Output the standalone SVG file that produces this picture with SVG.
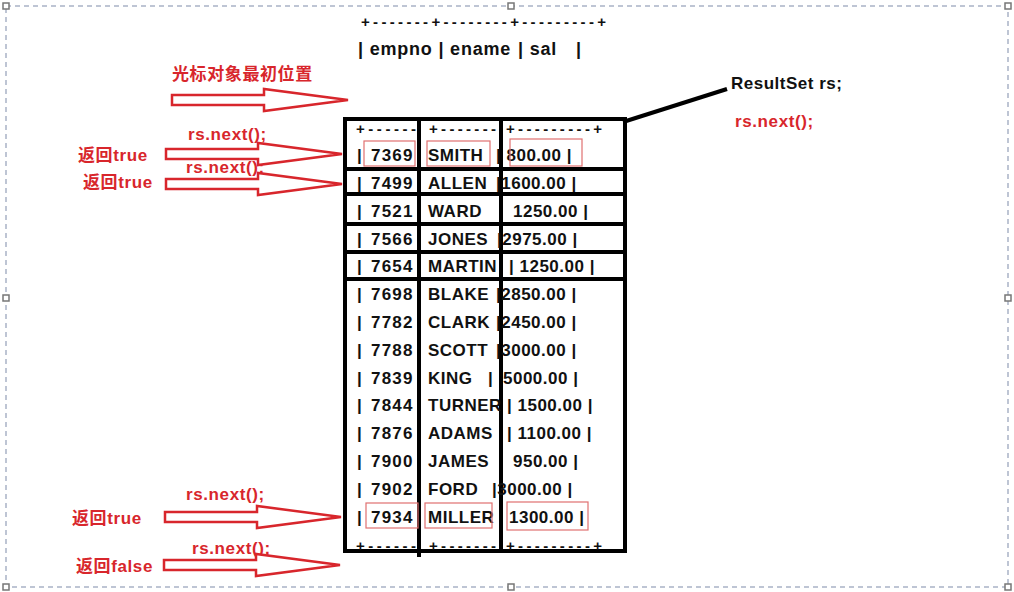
<svg xmlns="http://www.w3.org/2000/svg" width="1014" height="592" viewBox="0 0 1014 592">
<style>
.frame{fill:none;stroke:#a9b3c6;stroke-width:1.5;stroke-dasharray:5 4}
.handle{fill:#fff;stroke:#777;stroke-width:1.5}
.t{font-family:"Liberation Sans","Noto Sans CJK SC",sans-serif;font-weight:bold;font-size:17px;fill:#111;letter-spacing:0.5px}
.n{letter-spacing:1.2px}
.h{font-size:18px;letter-spacing:0.8px}
.p{font-size:15px;letter-spacing:0}
.r{font-family:"Liberation Sans","Noto Sans CJK SC",sans-serif;font-weight:bold;font-size:17px;fill:#d8262c;letter-spacing:0.6px}
.thick{stroke:#000;stroke-width:4;fill:none}
.box{fill:none;stroke:#e07070;stroke-width:1.2}
.arrow{fill:#fff;stroke:#d8262c;stroke-width:2.5;stroke-linejoin:miter}
</style>
<defs>
<path id="arr" d="M0,-5 L92,-5 L92,-11 L176,0 L92,11 L92,5 L0,5 Z"/>
</defs>
<rect width="1014" height="592" fill="#fff"/>
<rect class="frame" x="6" y="6" width="1002" height="581"/>
<g id="handles">
<rect class="handle" x="3" y="3" width="6" height="6"/>
<rect class="handle" x="508" y="3" width="6" height="6"/>
<rect class="handle" x="1005" y="3" width="6" height="6"/>
<rect class="handle" x="3" y="295" width="6" height="6"/>
<rect class="handle" x="1005" y="295" width="6" height="6"/>
<rect class="handle" x="3" y="584" width="6" height="6"/>
<rect class="handle" x="508" y="584" width="6" height="6"/>
<rect class="handle" x="1005" y="584" width="6" height="6"/>
</g>
<g id="header">
<text class="t p" x="361" y="27" textLength="245" lengthAdjust="spacing">+-------+--------+---------+</text>
<text class="t h" x="358" y="55">| empno | ename</text>
<text class="t h" x="518" y="55">| sal</text>
<text class="t h" x="576" y="55">|</text>
</g>
<g id="resultset-table">
<rect class="thick" x="345" y="119" width="280" height="432"/>
<line class="thick" x1="419" y1="118" x2="419" y2="557"/>
<line class="thick" x1="501" y1="118" x2="501" y2="551"/>
<line class="thick" x1="345" y1="169" x2="625" y2="169"/>
<line class="thick" x1="345" y1="194" x2="625" y2="194"/>
<line class="thick" x1="345" y1="224" x2="625" y2="224"/>
<line class="thick" x1="345" y1="252" x2="625" y2="252"/>
<line class="thick" x1="345" y1="279" x2="625" y2="279"/>
<text class="t p" x="356" y="134" textLength="60" lengthAdjust="spacing">+------</text>
<text class="t p" x="429" y="134" textLength="67" lengthAdjust="spacing">+-------</text>
<text class="t p" x="506" y="134" textLength="96" lengthAdjust="spacing">+---------+</text>
<text class="t p" x="356" y="551" textLength="60" lengthAdjust="spacing">+------</text>
<text class="t p" x="429" y="551" textLength="67" lengthAdjust="spacing">+-------</text>
<text class="t p" x="506" y="551" textLength="96" lengthAdjust="spacing">+---------+</text>
<g>
<text class="t" x="357" y="161">|</text><text class="t n" x="371" y="161">7369</text><text class="t" x="428" y="161">SMITH</text><text class="t" x="496" y="161">| 800.00 |</text>
<text class="t" x="357" y="189">|</text><text class="t n" x="371" y="189">7499</text><text class="t" x="428" y="189">ALLEN</text><text class="t" x="496" y="189">|1600.00 |</text>
<text class="t" x="357" y="217">|</text><text class="t n" x="371" y="217">7521</text><text class="t" x="428" y="217">WARD</text><text class="t" x="513" y="217">1250.00 |</text>
<text class="t" x="357" y="245">|</text><text class="t n" x="371" y="245">7566</text><text class="t" x="428" y="245">JONES</text><text class="t" x="497" y="245">|2975.00 |</text>
<text class="t" x="357" y="272">|</text><text class="t n" x="371" y="272">7654</text><text class="t" x="428" y="272">MARTIN</text><text class="t" x="509" y="272">| 1250.00 |</text>
<text class="t" x="357" y="300">|</text><text class="t n" x="371" y="300">7698</text><text class="t" x="428" y="300">BLAKE</text><text class="t" x="496" y="300">|2850.00 |</text>
<text class="t" x="357" y="328">|</text><text class="t n" x="371" y="328">7782</text><text class="t" x="428" y="328">CLARK</text><text class="t" x="496" y="328">|2450.00 |</text>
<text class="t" x="357" y="356">|</text><text class="t n" x="371" y="356">7788</text><text class="t" x="428" y="356">SCOTT</text><text class="t" x="496" y="356">|3000.00 |</text>
<text class="t" x="357" y="384">|</text><text class="t n" x="371" y="384">7839</text><text class="t" x="428" y="384">KING</text><text class="t" x="488" y="384">|</text><text class="t" x="503" y="384">5000.00 |</text>
<text class="t" x="357" y="411">|</text><text class="t n" x="371" y="411">7844</text><text class="t" x="428" y="411">TURNER</text><text class="t" x="507" y="411">| 1500.00 |</text>
<text class="t" x="357" y="439">|</text><text class="t n" x="371" y="439">7876</text><text class="t" x="428" y="439">ADAMS</text><text class="t" x="507" y="439">| 1100.00 |</text>
<text class="t" x="357" y="467">|</text><text class="t n" x="371" y="467">7900</text><text class="t" x="428" y="467">JAMES</text><text class="t" x="513" y="467">950.00 |</text>
<text class="t" x="357" y="495">|</text><text class="t n" x="371" y="495">7902</text><text class="t" x="428" y="495">FORD</text><text class="t" x="492" y="495">|3000.00 |</text>
<text class="t" x="357" y="523">|</text><text class="t n" x="371" y="523">7934</text><text class="t" x="428" y="523">MILLER</text><text class="t" x="509" y="523">1300.00 |</text>
</g>
<rect class="box" x="364" y="141" width="51" height="25"/>
<rect class="box" x="427" y="141" width="63" height="25"/>
<rect class="box" x="510" y="139" width="72" height="27"/>
<rect class="box" x="366" y="503" width="52" height="25"/>
<rect class="box" x="425" y="503" width="67" height="25"/>
<rect class="box" x="507" y="502" width="81" height="28"/>
</g>
<g id="resultset-label">
<text class="t" x="731" y="89" font-size="16" letter-spacing="0">ResultSet rs;</text>
<text class="r" x="735" y="127">rs.next();</text>
</g>
<g id="cursor-arrows">
<line class="thick" x1="623" y1="122" x2="727" y2="89"/>
<text class="r" x="172" y="80" font-size="17.5">光标对象最初位置</text>
<use href="#arr" class="arrow" transform="translate(172,100)"/>
<text class="r" x="188" y="140">rs.next();</text>
<text class="r" x="78" y="161">返回true</text>
<use href="#arr" class="arrow" transform="translate(166,154)"/>
<text class="r" x="186" y="173">rs.next();</text>
<text class="r" x="83" y="188">返回true</text>
<use href="#arr" class="arrow" transform="translate(166,184)"/>
<text class="r" x="186" y="500">rs.next();</text>
<text class="r" x="72" y="524">返回true</text>
<use href="#arr" class="arrow" transform="translate(165,517)"/>
<text class="r" x="192" y="554">rs.next();</text>
<text class="r" x="76" y="572">返回false</text>
<use href="#arr" class="arrow" transform="translate(164,565)"/>
</g>
</svg>
